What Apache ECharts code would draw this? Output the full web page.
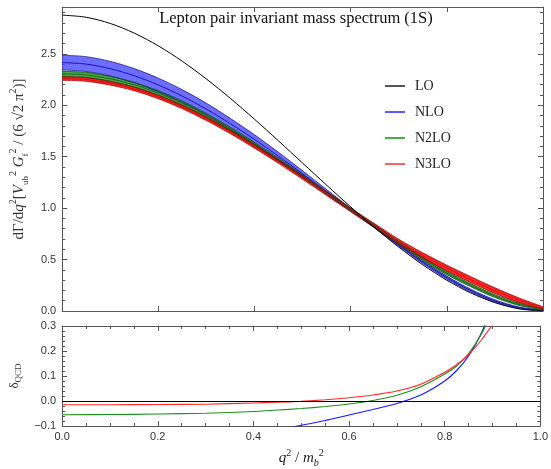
<!DOCTYPE html>
<html>
<head>
<meta charset="utf-8">
<script src="https://cdn.jsdelivr.net/npm/echarts@6/dist/echarts.min.js"></script>
<style>html,body{margin:0;padding:0;background:#fff;}#c{width:551px;height:469px;}</style>
</head>
<body>
<div id="c"></div>
<script>
// ---- data ----
const q = [0,0.05,0.1,0.15,0.2,0.25,0.3,0.35,0.4,0.45,0.5,0.55,0.6,0.65,0.7,0.75,0.8,0.85,0.9,0.95,1];
const lo = [2.876,2.855,2.795,2.701,2.577,2.427,2.255,2.066,1.864,1.653,1.438,1.223,1.012,0.810,0.621,0.449,0.299,0.175,0.081,0.021,0];

const nloMid  = [2.415,2.400,2.355,2.287,2.197,2.088,1.962,1.820,1.668,1.504,1.333,1.159,0.987,0.812,0.640,0.475,0.325,0.198,0.098,0.032,0.004];
const nloHigh = [2.487,2.472,2.426,2.356,2.263,2.150,2.019,1.871,1.713,1.542,1.363,1.180,0.999,0.818,0.650,0.488,0.339,0.211,0.109,0.039,0.007];
const nloLow  = [2.343,2.328,2.284,2.218,2.131,2.026,1.905,1.769,1.623,1.466,1.303,1.138,0.975,0.806,0.630,0.462,0.311,0.185,0.087,0.025,0.001];

const n2loMid  = [2.305,2.295,2.257,2.199,2.119,2.019,1.900,1.768,1.624,1.471,1.313,1.151,0.989,0.826,0.662,0.508,0.368,0.250,0.145,0.065,0.012];
const n2loHigh = [2.330,2.320,2.281,2.222,2.141,2.040,1.919,1.785,1.639,1.484,1.324,1.161,0.999,0.836,0.674,0.522,0.383,0.265,0.159,0.076,0.018];
const n2loLow  = [2.280,2.270,2.233,2.176,2.097,1.998,1.881,1.751,1.609,1.458,1.302,1.141,0.979,0.816,0.650,0.494,0.353,0.235,0.131,0.054,0.006];

const n3loMid  = [2.260,2.250,2.213,2.158,2.080,1.983,1.868,1.740,1.600,1.452,1.298,1.140,0.983,0.828,0.675,0.540,0.418,0.305,0.198,0.105,0.030];
const n3loHigh = [2.277,2.267,2.230,2.175,2.097,2.000,1.885,1.757,1.617,1.469,1.315,1.157,1.001,0.848,0.697,0.565,0.445,0.333,0.225,0.127,0.042];
const n3loLow  = [2.243,2.233,2.196,2.141,2.063,1.966,1.851,1.723,1.583,1.435,1.281,1.123,0.965,0.808,0.653,0.515,0.391,0.277,0.171,0.083,0.018];

const qd = [0,0.1,0.2,0.3,0.4,0.45,0.5,0.55,0.6,0.65,0.7,0.75,0.8,0.825,0.85,0.875,0.9];
const dNLO  = [null,null,null,null,-0.135,-0.115,-0.097,-0.078,-0.056,-0.034,-0.010,0.024,0.080,0.122,0.180,0.265,0.38];
const dN2LO = [-0.055,-0.054,-0.052,-0.049,-0.042,-0.036,-0.030,-0.022,-0.012,0.002,0.023,0.057,0.108,0.140,0.190,0.262,0.36];
const dN3LO = [-0.015,-0.015,-0.014,-0.013,-0.008,-0.005,-0.001,0.005,0.013,0.024,0.040,0.067,0.115,0.145,0.185,0.240,0.305];

const legendNames = ['LO','NLO','N2LO','N3LO'];
const titleText = 'Lepton pair invariant mass spectrum (1S)';

// ---- helpers ----
const pairs = (xs, ys) => xs.map((x, i) => [x, ys[i]]);
// value first, q second (so the library stacks the value dimension)
const vq = (xs, ys) => xs.map((x, i) => [ys[i], x]);
const diffs = (hi, lw) => hi.map((v, i) => +(v - lw[i]).toFixed(4));
const fmt = v => (v < 0 ? '\u2212' : '') + Math.abs(v).toFixed(1);
const AX = '#555';
const LBL = {fontFamily:'Liberation Sans', fontSize:11, color:'#333'};

function xAx(grid, pos, labels, minor){
  return {type:'value', gridIndex:grid, position:pos, min:0, max:1, interval:0.2,
    axisLine:{show:true, onZero:false, lineStyle:{color:AX, width:1}},
    axisTick:{show:true, inside:true, length:5, lineStyle:{color:AX}},
    minorTick:{show:minor, splitNumber:4, length:3, lineStyle:{color:AX}},
    splitLine:{show:false},
    axisLabel:{show:labels, margin:5, formatter:fmt, ...LBL}};
}
function yAx(grid, pos, min, max, interval, split, labels){
  return {type:'value', gridIndex:grid, position:pos, min:min, max:max, interval:interval,
    axisLine:{show:true, onZero:false, lineStyle:{color:AX, width:1}},
    axisTick:{show:true, inside:true, length:5, lineStyle:{color:AX}},
    minorTick:{show:true, splitNumber:split, length:3, lineStyle:{color:AX}},
    splitLine:{show:false},
    axisLabel:{show:labels, margin:6, showMaxLabel: Math.abs(max / interval - Math.round(max / interval)) < 1e-9, formatter:fmt, ...LBL}};
}

function band(name, hi, lw, fill, edge){
  return [
    {type:'line', name:name+'_lo', xAxisIndex:0, yAxisIndex:0, stack:name, smooth:0.3,
     symbol:'none', encode:{x:1, y:0}, data:vq(q, lw), lineStyle:{color:edge, width:0.8}},
    {type:'line', name:name+'_hi', xAxisIndex:0, yAxisIndex:0, stack:name, smooth:0.3,
     symbol:'none', encode:{x:1, y:0}, data:vq(q, diffs(hi, lw)), lineStyle:{color:edge, width:0.8},
     areaStyle:{color:fill, opacity:1}}
  ];
}
function mid(name, ys, color, w){
  return {type:'line', name:name, xAxisIndex:0, yAxisIndex:0, smooth:0.3, symbol:'none',
    data:pairs(q, ys), lineStyle:{color:color, width:w}, itemStyle:{color:color}};
}
function dline(name, ys, color){
  return {type:'line', name:name+'_d', xAxisIndex:2, yAxisIndex:2, smooth:0.3, symbol:'none',
    connectNulls:false, data:pairs(qd, ys), lineStyle:{color:color, width:1.2}, itemStyle:{color:color}};
}

const chart = echarts.init(document.getElementById('c'), null, {renderer:'canvas'});
const option = {
  animation:false,
  backgroundColor:'#fff',
  grid:[
    {left:52, top:7, width:491, height:304},
    {left:52, top:326, width:491, height:102}
  ],
  xAxis:[
    xAx(0,'bottom',false,false), xAx(0,'top',false,false),
    {...xAx(1,'bottom',true,true),
      name:'{i|q}{s|2}{a| / }{i|m}{b|b}{s|2}', nameLocation:'middle', nameGap:22,
      nameTextStyle:{color:'#222', rich:{
        i:{fontFamily:'Liberation Serif', fontStyle:'italic', fontSize:15, lineHeight:20},
        a:{fontFamily:'Liberation Serif', fontSize:15, lineHeight:20},
        s:{fontFamily:'Liberation Serif', fontSize:10, lineHeight:10, verticalAlign:'top'},
        b:{fontFamily:'Liberation Serif', fontStyle:'italic', fontSize:10, lineHeight:10, verticalAlign:'bottom'}}}},
    xAx(1,'top',false,true)
  ],
  yAxis:[
    {...yAx(0,'left',0,2.955,0.5,5,true),
      name:'{a|d\u0393/d}{i|q}{s|2}{a|[}{i|V}{b|ub}{s|2}{a| }{i|G}{b|f}{s|2}{a| / (6 \u221A2 \u03C0}{s|2}{a|)]}',
      nameLocation:'middle', nameRotate:90, nameGap:27,
      nameTextStyle:{color:'#333', rich:{
        a:{fontFamily:'Liberation Serif', fontSize:15, lineHeight:22},
        i:{fontFamily:'Liberation Serif', fontStyle:'italic', fontSize:15, lineHeight:22},
        s:{fontFamily:'Liberation Serif', fontSize:10, lineHeight:10, verticalAlign:'top'},
        b:{fontFamily:'Liberation Serif', fontSize:9, lineHeight:9, verticalAlign:'bottom'}}}},
    yAx(0,'right',0,2.955,0.5,5,false),
    {...yAx(1,'left',-0.1,0.3,0.1,5,true),
      name:'{a|\u03B4}{b|QCD}', nameLocation:'middle', nameRotate:90, nameGap:30,
      nameTextStyle:{color:'#333', rich:{
        a:{fontFamily:'Liberation Serif', fontSize:13, lineHeight:18},
        b:{fontFamily:'Liberation Serif', fontSize:9, lineHeight:9, verticalAlign:'bottom'}}}},
    yAx(1,'right',-0.1,0.3,0.1,5,false)
  ],
  legend:{
    orient:'vertical', left:380, top:73, itemGap:10, itemWidth:20, itemHeight:2,
    selectedMode:false, icon:'rect',
    textStyle:{fontFamily:'Liberation Serif', fontSize:14, color:'#222', lineHeight:16, padding:[0,0,0,5]},
    data:[
      {name:legendNames[0], itemStyle:{color:'#555'}},
      {name:legendNames[1], itemStyle:{color:'#5b5bff'}},
      {name:legendNames[2], itemStyle:{color:'#4cab4c'}},
      {name:legendNames[3], itemStyle:{color:'#ff6464'}}
    ]
  },
  graphic:[
    {type:'text', x:296, y:19, style:{text:titleText, font:'16.5px "Liberation Serif"', fill:'#111',
      textAlign:'center', textVerticalAlign:'middle', verticalAlign:'middle'}}
  ],
  series:[
    ...band('nloBand', nloHigh, nloLow, 'rgba(60,60,255,0.75)', '#1a1a90'),
    mid(legendNames[1], nloMid, '#1515b0', 1),
    ...band('n2loBand', n2loHigh, n2loLow, 'rgba(40,150,40,0.85)', '#0c4a0c'),
    mid(legendNames[2], n2loMid, '#1a6a1a', 1),
    ...band('n3loBand', n3loHigh, n3loLow, 'rgba(255,25,25,0.92)', '#9a0000'),
    mid(legendNames[3], n3loMid, '#d00000', 0.8),
    mid(legendNames[0], lo, '#000000', 1),
    dline('NLO', dNLO, '#1a1aff'),
    dline('N2LO', dN2LO, '#1f8f1f'),
    {...dline('N3LO', dN3LO, '#ff2a2a'),
      markLine:{silent:true, symbol:'none', label:{show:false},
        lineStyle:{color:'#000', width:1, type:'solid'}, data:[{yAxis:0}]}}
  ]
};
chart.setOption(option);
</script>
</body>
</html>
